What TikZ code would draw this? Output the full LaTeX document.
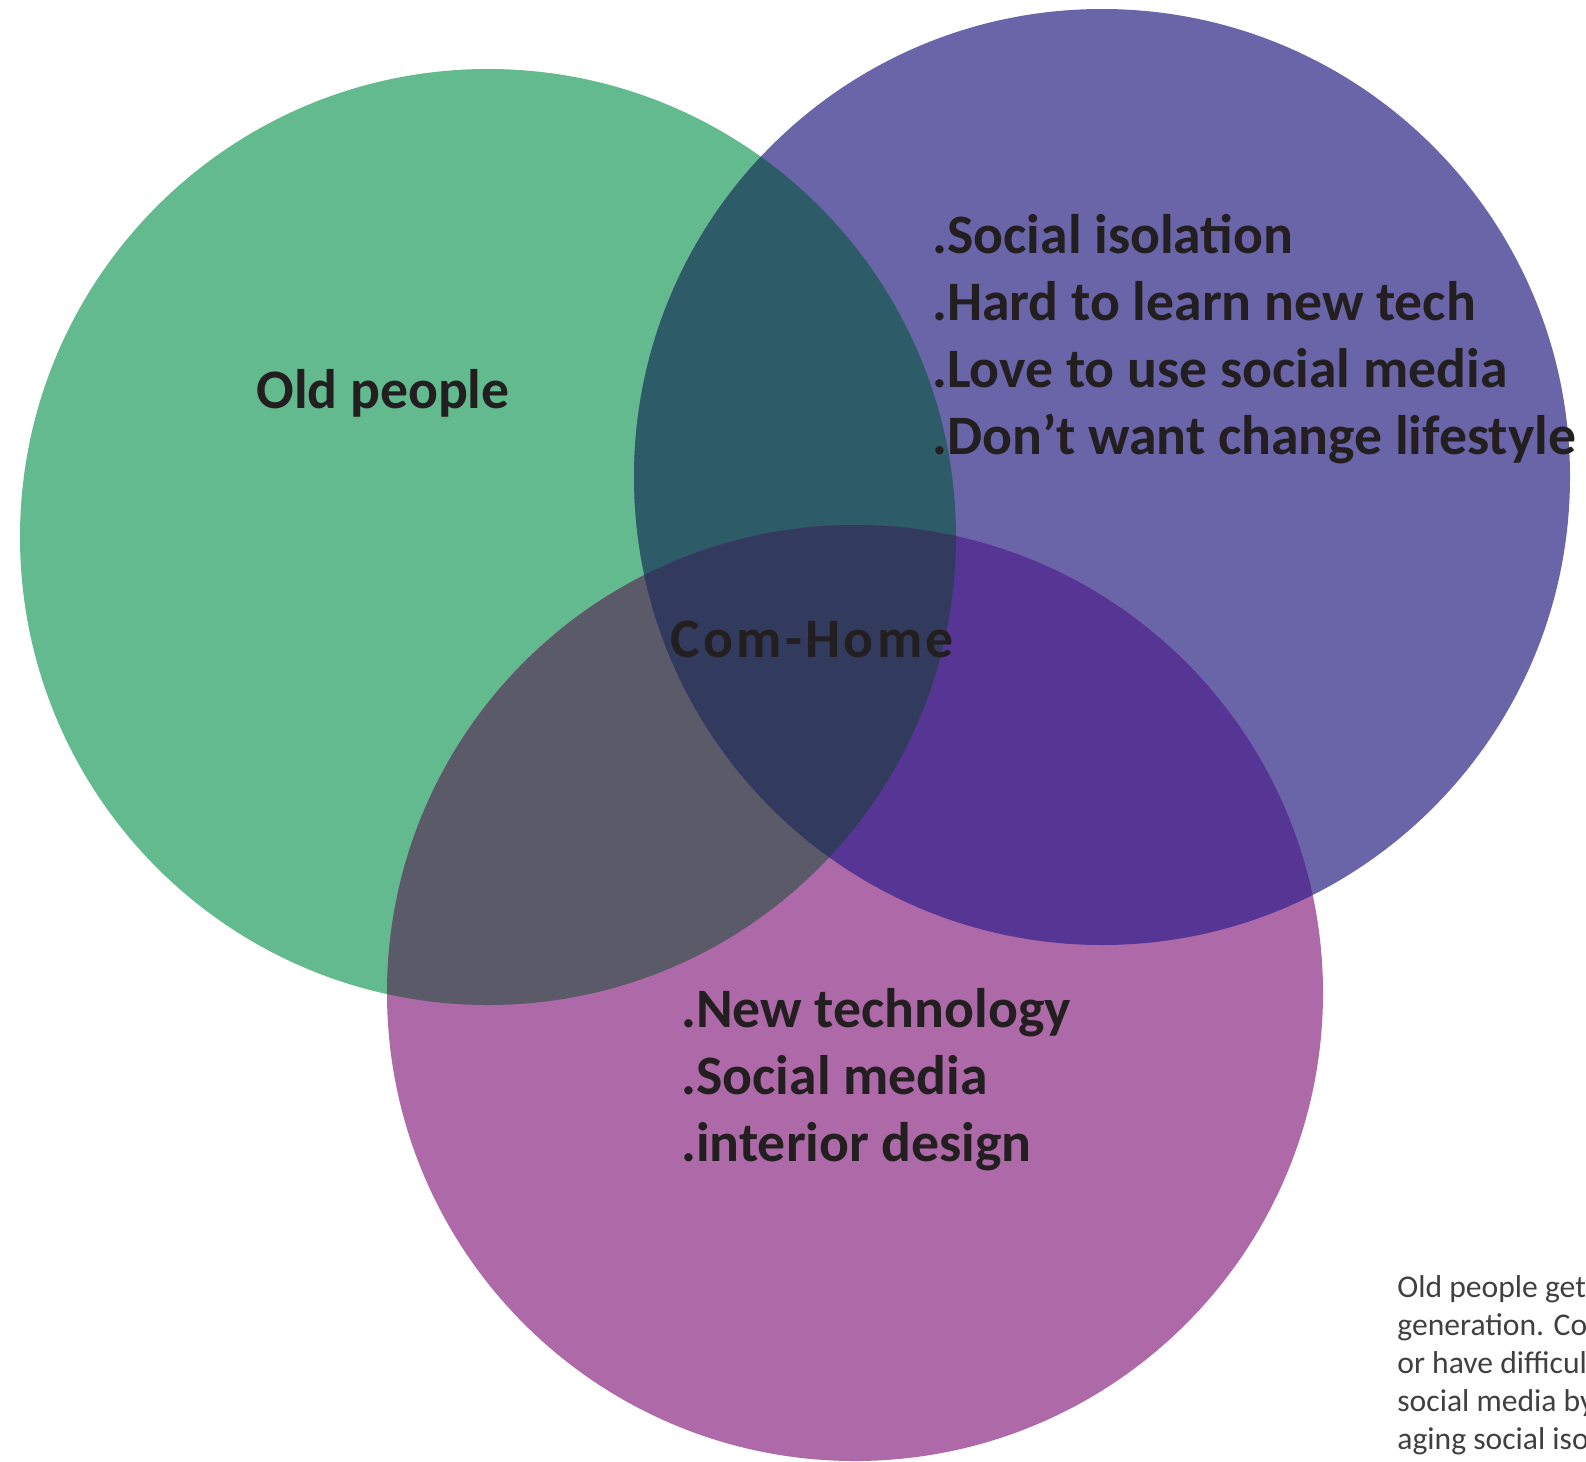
\documentclass[tikz,border=0pt]{standalone}
\usepackage{fontspec}
\setmainfont{Carlito}
\usetikzlibrary{positioning}
\definecolor{oldgreen}{HTML}{64BA8F}
\definecolor{issueblue}{HTML}{6A64A8}
\definecolor{techpink}{HTML}{AE69A8}
\definecolor{greenblue}{HTML}{2D5B67}
\definecolor{greenpink}{HTML}{5A5A69}
\definecolor{bluepink}{HTML}{573594}
\definecolor{allthree}{HTML}{323A5E}
\definecolor{labelink}{HTML}{231F20}
\definecolor{notegray}{HTML}{404040}
\def\rad{468}
\def\lsep{67.3}
\tikzset{
venn label/.style={font=\bfseries\fontsize{31.7}{38}\selectfont,text=labelink,inner sep=0pt,anchor=base west},
note/.style={font=\fontsize{18}{21.6}\selectfont,text=notegray,inner sep=0pt,anchor=base west},
}
\begin{document}
\begin{tikzpicture}[x=0.02cm,y=-0.02cm]
\useasboundingbox (0,0) rectangle (1586,1461);
\clip (0,0) rectangle (1586,1461);
% circle centres
\coordinate (old)   at (488,537);
\coordinate (issue) at (1102,477);
\coordinate (tech)  at (855,993);
% the three sets
\fill[oldgreen]  (old)   circle (\rad);
\fill[issueblue] (issue) circle (\rad);
\fill[techpink]  (tech)  circle (\rad);
% overlaps
\begin{scope}
  \clip (old) circle (\rad);
  \fill[greenblue] (issue) circle (\rad);
  \fill[greenpink] (tech) circle (\rad);
\end{scope}
\begin{scope}
  \clip (issue) circle (\rad);
  \fill[bluepink] (tech) circle (\rad);
\end{scope}
\begin{scope}
  \clip (old) circle (\rad);
  \clip (issue) circle (\rad);
  \fill[allthree] (tech) circle (\rad);
\end{scope}
% labels
\node[venn label] (oldlbl) at (256,408) {Old people};
\node[venn label] (iso)    at (932,253) {.Social isolation};
\node[venn label] (hard)   at (932,253+\lsep) {.Hard to learn new tech};
\node[venn label] (love)   at (932,253+2*\lsep) {.Love to use social media};
\node[venn label] (change) at (932,253+3*\lsep) {.Don’t want change lifestyle};
\node[venn label] (com)    at (670,657) {\addfontfeature{LetterSpace=6}Com-Home};
\node[venn label] (newtech) at (681,1027) {.New technology};
\node[venn label] (social)  at (681,1027+\lsep) {.Social media};
\node[venn label] (design)  at (681,1027+2*\lsep) {.interior design};
% side note, cut by the page edge
\node[note] (n1) at (1397,1297) {Old people get};
\node[note] (n2) at (1397,1335) {generation. Co};
\node[note] (n3) at (1397,1373) {or have difficul};
\node[note] (n4) at (1397,1411) {social media by};
\node[note] (n5) at (1397,1449) {aging social iso};
\end{tikzpicture}
\end{document}
